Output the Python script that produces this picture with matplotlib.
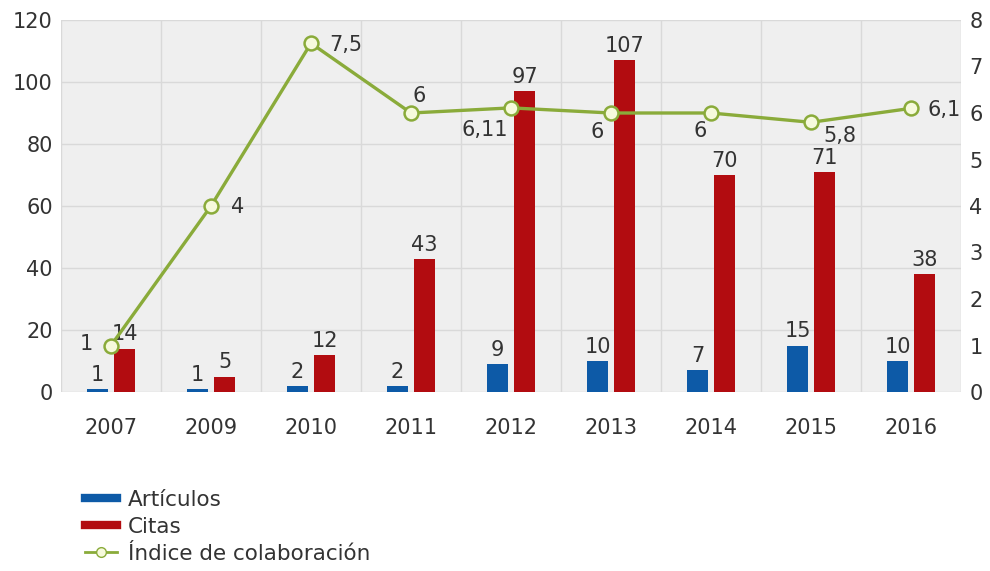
import matplotlib
matplotlib.use("Agg")
import matplotlib.pyplot as plt
from matplotlib.lines import Line2D
import numpy as np

years = ["2007", "2009", "2010", "2011", "2012", "2013", "2014", "2015", "2016"]
articulos = [1, 1, 2, 2, 9, 10, 7, 15, 10]
citas = [14, 5, 12, 43, 97, 107, 70, 71, 38]
indice = [1, 4, 7.5, 6, 6.11, 6, 6, 5.8, 6.1]
indice_labels = ["1", "4", "7,5", "6", "6,11", "6", "6", "5,8", "6,1"]

# label offsets (points) for the line labels
line_offsets = [(-18, 1), (19, -1), (25, -1), (6, 12), (-19, -16), (-10, -14), (-8, -13), (21, -10), (24, -1)]

blue = "#0d5aa7"
red = "#b20c10"
green = "#8aab3a"
face = "#f6fadc"
txt = "#333333"
FS = 15

plt.rcParams['font.family'] = ['DejaVu Sans']
fig = plt.figure(figsize=(9.9, 5.71), dpi=100)
ax = fig.add_axes([61/990, 1-392/571, 900/990, 372/571])
ax.set_facecolor("#efefef")

x = np.arange(len(years))
w = 0.21
off = 0.135
ax.bar(x - off, articulos, w, color=blue, zorder=3)
ax.bar(x + off, citas, w, color=red, zorder=3)
for xi, v in zip(x, articulos):
    ax.annotate(str(v), (xi - off, v), xytext=(0, 3), textcoords="offset points",
                ha="center", va="bottom", fontsize=FS, color=txt, zorder=5)
for xi, v in zip(x, citas):
    ax.annotate(str(v), (xi + off, v), xytext=(0, 3), textcoords="offset points",
                ha="center", va="bottom", fontsize=FS, color=txt, zorder=5)

ax.set_xlim(-0.5, len(years) - 0.5)
ax.set_ylim(0, 120)
ax.set_yticks(range(0, 121, 20))
ax.set_xticks(x)
ax.set_xticklabels(years)
ax.set_xticks(np.arange(-0.5, len(years), 1), minor=True)
ax.grid(True, which="minor", axis="x", color="#d9d9d9", lw=1, zorder=0)
ax.grid(True, which="major", axis="y", color="#d9d9d9", lw=1, zorder=0)
ax.grid(False, which="major", axis="x")
ax.tick_params(axis="y", which="both", length=0, labelsize=FS, colors=txt, pad=6)
ax.tick_params(axis="x", which="both", length=0, labelsize=FS, colors=txt, pad=19)
for s in ax.spines.values():
    s.set_visible(False)

ax2 = ax.twinx()
ax2.set_ylim(0, 8)
ax2.set_yticks(range(0, 9))
ax2.plot(x, indice, color=green, lw=2.4, marker="o", ms=10, mfc=face, mec=green, mew=1.8, zorder=6)
for xi, v, lab, o in zip(x, indice, indice_labels, line_offsets):
    ax2.annotate(lab, (xi, v), xytext=o, textcoords="offset points",
                 ha="center", va="center", fontsize=FS, color=txt, zorder=7)
ax2.tick_params(axis="y", length=0, labelsize=FS, colors=txt, pad=6)
for s in ax2.spines.values():
    s.set_visible(False)

handles = [Line2D([0], [0], color=blue, lw=6),
           Line2D([0], [0], color=red, lw=6),
           Line2D([0], [0], color=green, lw=2, marker="o", ms=7, mfc=face, mec=green)]
fig.legend(handles, ["Artículos", "Citas", "Índice de colaboración"], loc="upper left",
           bbox_to_anchor=(85/990, 1-490/571), frameon=False, fontsize=FS + 0.5,
           borderpad=0, borderaxespad=0,
           labelspacing=0.32, handlelength=1.5, handletextpad=0.5, labelcolor=txt)

fig.savefig("out.png", dpi=100, facecolor="white")
